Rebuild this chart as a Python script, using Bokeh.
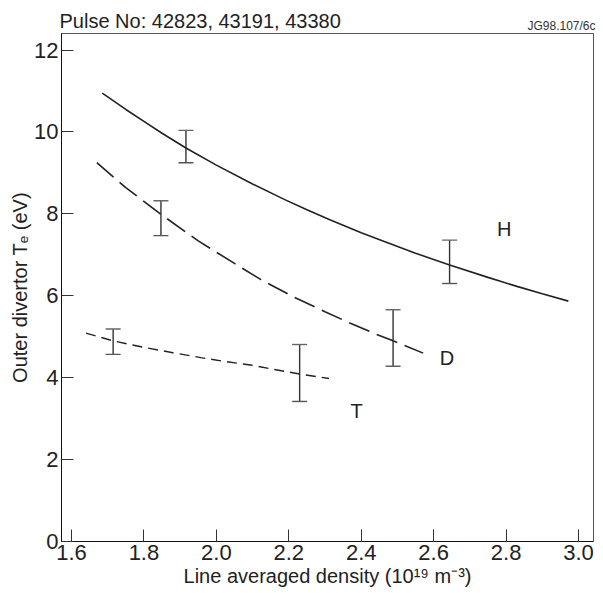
from bokeh.plotting import figure
from bokeh.models import Range1d, Label, Whisker, ColumnDataSource, TeeHead, FixedTicker, Title
from bokeh.embed import file_html
from bokeh.resources import INLINE

# ---- data ----
H_x = [1.685, 1.75, 1.80, 1.85, 1.916, 2.00, 2.10, 2.186, 2.25, 2.315, 2.40, 2.462,
       2.55, 2.644, 2.75, 2.83, 2.90, 2.972]
H_y = [10.95, 10.55, 10.26, 9.97, 9.61, 9.19, 8.73, 8.36, 8.10, 7.85, 7.54, 7.33,
       7.04, 6.75, 6.45, 6.23, 6.05, 5.87]

D_x = [1.670, 1.75, 1.847, 1.95, 2.05, 2.122, 2.214, 2.30, 2.370, 2.45, 2.488, 2.571]
D_y = [9.25, 8.64, 7.99, 7.34, 6.79, 6.40, 5.97, 5.61, 5.33, 5.03, 4.90, 4.60]

T_x = [1.640, 1.715, 1.80, 1.88, 1.957, 2.02, 2.094, 2.16, 2.230, 2.311]
T_y = [5.09, 4.90, 4.74, 4.61, 4.49, 4.40, 4.31, 4.20, 4.09, 3.98]

err_x = [1.916, 2.644, 1.847, 2.488, 1.715, 2.230]
err_lo = [9.25, 6.30, 7.47, 4.28, 4.57, 3.42]
err_hi = [10.04, 7.36, 8.32, 5.66, 5.19, 4.81]

series_names = ["H", "D", "T"]
name_x = [2.795, 2.637, 2.387]
name_y = [7.63, 4.47, 3.19]

x_ticks = [1.6, 1.8, 2.0, 2.2, 2.4, 2.6, 2.8, 3.0]
y_ticks = [0, 2, 4, 6, 8, 10, 12]

title_text = "Pulse No: 42823, 43191, 43380"
ref_text = "JG98.107/6c"
x_label = "Line averaged density (10\u00b9\u2079 m\u207b\u00b3)"
y_label = "Outer divertor T\u2091 (eV)"

FONT = "Liberation Sans"
INK = "#222222"

p = figure(width=602, height=592, output_backend="svg", toolbar_location=None,
           x_range=Range1d(1.5724, 3.0414), y_range=Range1d(0, 12.405),
           min_border_left=61, min_border_right=9, min_border_top=33, min_border_bottom=51)
p.background_fill_color = "white"
p.border_fill_color = "white"
p.outline_line_color = "#555555"
p.outline_line_width = 1
p.xgrid.visible = False
p.ygrid.visible = False

# small reference code, right aligned, just above the frame (inner title)
p.add_layout(Title(text=ref_text, align="right", offset=-2, standoff=1,
                   vertical_align="bottom", text_font=FONT, text_font_size="12px",
                   text_font_style="normal", text_color="#333333"), "above")

# main title (outer), pulled down level with the reference code
p.title.text = title_text
p.title.align = "left"
p.title.offset = -2
p.title.standoff = -30
p.title.text_font = FONT
p.title.text_font_size = "20px"
p.title.text_font_style = "normal"
p.title.text_color = INK

for ax in (p.xaxis, p.yaxis):
    ax.axis_line_color = "#111111"
    ax.axis_line_width = 1
    ax.major_tick_in = 12
    ax.major_tick_out = 0
    ax.minor_tick_in = 0
    ax.minor_tick_out = 0
    ax.major_tick_line_color = "#333333"
    ax.major_label_text_font = FONT
    ax.major_label_text_font_size = "22px"
    ax.major_label_text_color = INK
    ax.axis_label_text_font = FONT
    ax.axis_label_text_font_size = "20px"
    ax.axis_label_text_font_style = "normal"
    ax.axis_label_text_color = INK

p.xaxis.ticker = FixedTicker(ticks=x_ticks)
p.yaxis.ticker = FixedTicker(ticks=y_ticks)
p.xaxis.major_label_overrides = {t: f"{t:.1f}" for t in x_ticks}
p.xaxis.major_label_standoff = 3
p.yaxis.major_label_standoff = 3
p.xaxis.axis_label_standoff = 2
p.yaxis.axis_label_standoff = 0
p.xaxis.axis_label = x_label
p.yaxis.axis_label = y_label

p.line(H_x, H_y, line_color=INK, line_width=1.6)
p.line(D_x, D_y, line_color=INK, line_width=1.6, line_dash="22 8")
p.line(T_x, T_y, line_color=INK, line_width=1.4, line_dash="10 6")

src = ColumnDataSource(dict(x=err_x, lo=err_lo, hi=err_hi))
p.add_layout(Whisker(source=src, base="x", lower="lo", upper="hi", dimension="height",
                     line_color="#333333", line_width=1.4,
                     upper_head=TeeHead(size=15, line_color="#666666", line_width=1.4),
                     lower_head=TeeHead(size=15, line_color="#555555", line_width=1.4)))

for n, xx, yy in zip(series_names, name_x, name_y):
    p.add_layout(Label(x=xx, y=yy, text=n, text_font=FONT, text_font_size="20px",
                       text_color=INK, text_align="center", text_baseline="middle"))

open("out.html", "w").write(file_html(p, INLINE))
